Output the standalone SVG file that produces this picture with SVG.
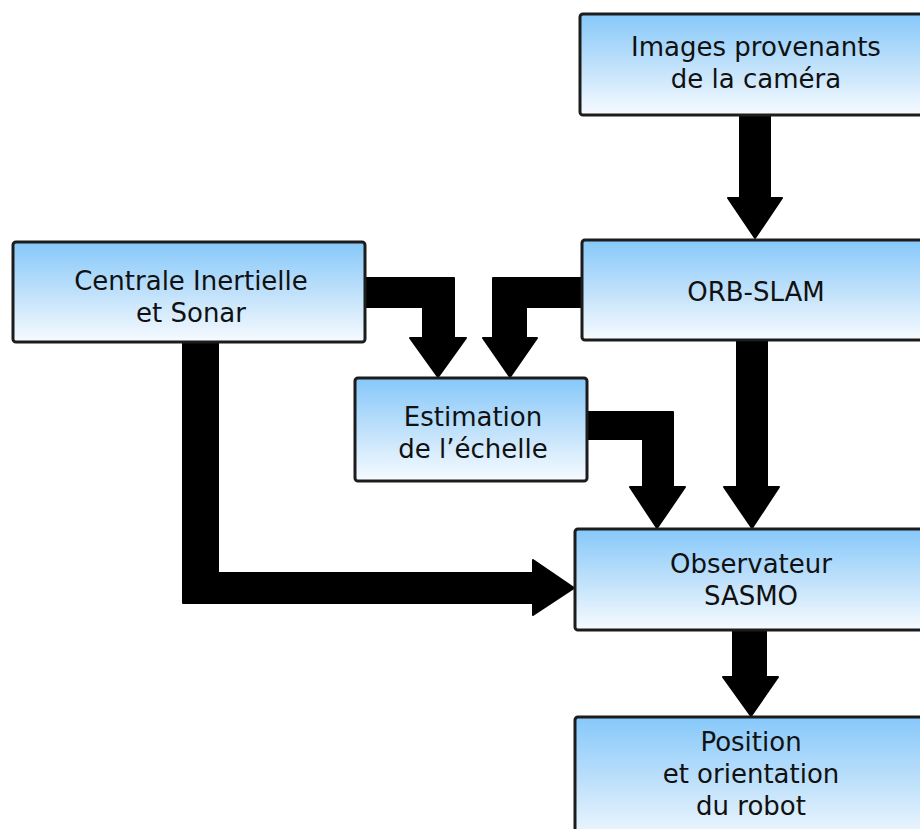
<svg xmlns="http://www.w3.org/2000/svg" width="920" height="829" viewBox="0 0 920 829">
<defs>
<linearGradient id="g" x1="0" y1="0" x2="0" y2="1">
<stop offset="0" stop-color="#86c8fa"/>
<stop offset="0.55" stop-color="#c4e3fb"/>
<stop offset="1" stop-color="#f7fbff"/>
</linearGradient>
</defs>
<style>
.box{fill:url(#g);stroke:#1c1c1c;stroke-width:3}
.t{font-family:"DejaVu Sans",Verdana,sans-serif;font-size:26px;fill:#111;text-anchor:middle}
.c{fill:#000;stroke:#000;stroke-width:2;stroke-linejoin:round}
</style>
<rect width="920" height="829" fill="#fff"/>
<g id="connectors">
<path class="c" d="M740,115 H770 V198 H782 L755,238 L728,198 H740 Z"/>
<path class="c" d="M365,278 H454 V338 H466 L438,377 L410,338 H423 V307 H365 Z"/>
<path class="c" d="M583,278 V307 H526 V338 H537 L510,377 L483,338 H493 V278 Z"/>
<path class="c" d="M587,412 H673 V487 H685 L657,528 L630,487 H643 V439 H587 Z"/>
<path class="c" d="M737,340 H767 V487 H779 L752,528 L724,487 H737 Z"/>
<path class="c" d="M183,342 H218 V573 H533 V560 L574,588 L533,615 V603 H183 Z"/>
<path class="c" d="M733,630 H766 V677 H778 L751,716 L723,677 H733 Z"/>
</g>
<g id="images">
<rect class="box" x="580" y="14" width="352" height="101" rx="3"/>
<text class="t" x="756" y="56">Images provenants</text>
<text class="t" x="756" y="88">de la caméra</text>
</g>
<g id="centrale">
<rect class="box" x="13" y="242" width="352" height="100" rx="3"/>
<text class="t" x="191" y="290">Centrale Inertielle</text>
<text class="t" x="191" y="322">et Sonar</text>
</g>
<g id="orbslam">
<rect class="box" x="582" y="240" width="350" height="100" rx="3"/>
<text class="t" x="756" y="301">ORB-SLAM</text>
</g>
<g id="estimation">
<rect class="box" x="355" y="378" width="232" height="103" rx="3"/>
<text class="t" x="473" y="426">Estimation</text>
<text class="t" x="473" y="458">de l’échelle</text>
</g>
<g id="observateur">
<rect class="box" x="575" y="529" width="357" height="101" rx="3"/>
<text class="t" x="751" y="573">Observateur</text>
<text class="t" x="751" y="605">SASMO</text>
</g>
<g id="position">
<rect class="box" x="575" y="717" width="357" height="130" rx="3"/>
<text class="t" x="751" y="751">Position</text>
<text class="t" x="751" y="783">et orientation</text>
<text class="t" x="751" y="815">du robot</text>
</g>
</svg>
